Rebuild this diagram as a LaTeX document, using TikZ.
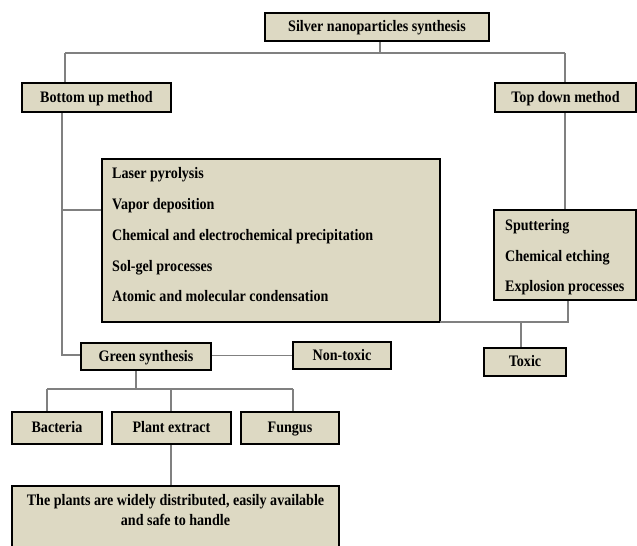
\documentclass[tikz,border=0pt]{standalone}
\usepackage{fontspec}
\setmainfont{Liberation Serif}[FakeStretch=0.88]
\definecolor{boxfill}{RGB}{221,217,195}
\definecolor{linegray}{RGB}{128,128,128}
\begin{document}
\begin{tikzpicture}[x=1pt,y=-1pt,
  box/.style={draw=black, line width=2pt, fill=boxfill, inner sep=0pt,
    font=\bfseries\fontsize{16}{18}\selectfont, align=center,
    text height=12pt, text depth=3pt},
  conn/.style={draw=linegray, line width=1.3pt},
  item/.style={anchor=west, inner sep=0pt, font=\bfseries\fontsize{16}{18}\selectfont,
    text height=12pt, text depth=3pt}]
\clip (0,0) rectangle (637,546);
\fill[white] (0,0) rectangle (637,546);
% boxes
\node[box, minimum width=224pt, minimum height=28pt] (silver) at (377,27) {Silver nanoparticles synthesis};
\node[box, minimum width=149pt, minimum height=29pt] (bu) at (96.5,97.5) {Bottom up method};
\node[box, minimum width=141pt, minimum height=29pt] (td) at (565.5,97.5) {Top down method};
\node[box, minimum width=338pt, minimum height=163pt] (big) at (271,240.5) {};
\node[box, minimum width=142pt, minimum height=90pt] (rl) at (565,255) {};
\node[box, minimum width=82pt, minimum height=28pt] (toxic) at (525,362) {Toxic};
\node[box, minimum width=130pt, minimum height=27pt] (green) at (146,356.5) {Green synthesis};
\node[box, minimum width=98pt, minimum height=27pt] (nontoxic) at (342,355.5) {Non-toxic};
\node[box, minimum width=90pt, minimum height=32pt] (bact) at (57,428) {Bacteria};
\node[box, minimum width=119pt, minimum height=32pt] (plant) at (171.5,428) {Plant extract};
\node[box, minimum width=98pt, minimum height=32pt] (fungus) at (290,428) {Fungus};
\node[box, minimum width=327pt, minimum height=90pt] (plants) at (175.5,531) {};
% list texts
\node[item] (l1) at (112,174) {Laser pyrolysis};
\node[item] (l2) at (112,205) {Vapor deposition};
\node[item] (l3) at (112,236) {Chemical and electrochemical precipitation};
\node[item] (l4) at (112,267) {Sol-gel processes};
\node[item] (l5) at (112,297) {Atomic and molecular condensation};
\node[item] (r1) at (505,226) {Sputtering};
\node[item] (r2) at (505,257) {Chemical etching};
\node[item] (r3) at (505,287) {Explosion processes};
\node[inner sep=0pt, font=\bfseries\fontsize{16}{18}\selectfont, text height=12pt, text depth=3pt] (p1) at (175.5,501) {The plants are widely distributed, easily available};
\node[inner sep=0pt, font=\bfseries\fontsize{16}{18}\selectfont, text height=12pt, text depth=3pt] (p2) at (175.5,521) {and safe to handle};
% junction coordinates
\coordinate (topj) at (380,53);
\coordinate (tl) at (65,53);
\coordinate (tr) at (565,53);
\coordinate (bj) at (62,210);
\coordinate (gj) at (62,355);
\coordinate (rj) at (568,322);
\coordinate (xj) at (521,322);
\coordinate (ej) at (440,322);
\coordinate (gb) at (136,389);
\coordinate (hl) at (47,389);
\coordinate (hm) at (171,389);
\coordinate (hr) at (293,389);
% connectors
\draw[conn] (silver.south -| topj) -- (topj);
\draw[conn] (tl) -- (tr);
\draw[conn] (tl) -- (bu.north -| tl);
\draw[conn] (tr) -- (td.north -| tr);
\draw[conn] (bu.south -| gj) -- (gj) -- (green.west |- gj);
\draw[conn] (bj) -- (big.west |- bj);
\draw[conn] (td.south -| tr) -- (rl.north -| tr);
\draw[conn] (rl.south -| rj) -- (rj) -- (ej);
\draw[conn] (xj) -- (toxic.north -| xj);
\draw[conn] (green.east |- nontoxic.west) -- (nontoxic.west);
\draw[conn] (green.south -| gb) -- (gb);
\draw[conn] (hl) -- (hr);
\draw[conn] (hl) -- (bact.north -| hl);
\draw[conn] (hm) -- (plant.north -| hm);
\draw[conn] (hr) -- (fungus.north -| hr);
\draw[conn] (plant.south -| hm) -- (plants.north -| hm);
\end{tikzpicture}
\end{document}
